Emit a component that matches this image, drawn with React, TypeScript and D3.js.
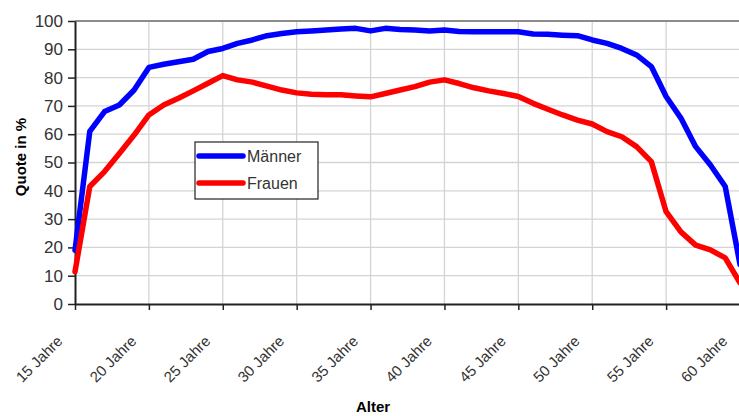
import React, { useEffect, useRef } from "react";
import * as d3 from "d3";

const ages = [15, 16, 17, 18, 19, 20, 21, 22, 23, 24, 25, 26, 27, 28, 29, 30, 31, 32, 33, 34, 35, 36, 37, 38, 39, 40, 41, 42, 43, 44, 45, 46, 47, 48, 49, 50, 51, 52, 53, 54, 55, 56, 57, 58, 59, 60];

const maenner = [19, 61, 68, 70.3, 75.6, 83.6, 84.7, 85.6, 86.5, 89.2, 90.3, 92.1, 93.3, 94.8, 95.6, 96.2, 96.5, 96.8, 97.2, 97.4, 96.5, 97.4, 97, 96.8, 96.5, 96.8, 96.3, 96.2, 96.2, 96.2, 96.2, 95.4, 95.3, 95, 94.8, 93.3, 92.1, 90.3, 88, 83.9, 73.3, 65.7, 55.6, 49.1, 41.5, 14];

const frauen = [11.4, 41.5, 46.8, 53.2, 59.7, 66.8, 70.3, 72.7, 75.3, 78, 80.7, 79.2, 78.4, 77, 75.6, 74.6, 74.1, 73.9, 73.9, 73.5, 73.2, 74.4, 75.6, 76.8, 78.4, 79.2, 77.9, 76.4, 75.3, 74.4, 73.3, 70.9, 68.8, 66.8, 65, 63.6, 60.9, 59.1, 55.6, 50.3, 32.6, 25.5, 20.8, 19.1, 16.3, 7.5];

const yTicks = [0, 10, 20, 30, 40, 50, 60, 70, 80, 90, 100];
const xTicks = [15, 20, 25, 30, 35, 40, 45, 50, 55, 60];

const series = [
  { name: "Männer", values: maenner, color: "#0000ff" },
  { name: "Frauen", values: frauen, color: "#ff0000" },
];

const App = () => {
  const width = 739;
  const height = 416;
  const svgRef = useRef(null);

  useEffect(() => {
    const svg = d3.select(svgRef.current);
    svg.selectAll("*").remove();

    const left = 75, right = 740, top = 21, bottom = 304;
    const font = "Arial, 'Liberation Sans', sans-serif";

    const x = d3.scaleLinear().domain([15, 60]).range([left, right]);
    const y = d3.scaleLinear().domain([0, 100]).range([bottom, top]);

    svg.append("rect").attr("width", width).attr("height", height).attr("fill", "#fff");

    // grid
    svg.append("g")
      .selectAll("line")
      .data(yTicks.slice(1, -1))
      .join("line")
      .attr("x1", left).attr("x2", right)
      .attr("y1", (d) => y(d)).attr("y2", (d) => y(d))
      .attr("stroke", "#d4d4d4").attr("stroke-width", 1.3);
    svg.append("g")
      .selectAll("line")
      .data(xTicks.slice(1))
      .join("line")
      .attr("x1", (d) => x(d)).attr("x2", (d) => x(d))
      .attr("y1", top).attr("y2", bottom)
      .attr("stroke", "#d4d4d4").attr("stroke-width", 1.3);

    // top border
    svg.append("line")
      .attr("x1", left).attr("x2", right)
      .attr("y1", top).attr("y2", top)
      .attr("stroke", "#8c8c8c").attr("stroke-width", 2);

    // y axis
    const yAxis = svg.append("g")
      .attr("transform", `translate(${left},0)`)
      .call(d3.axisLeft(y).tickValues(yTicks).tickSizeInner(7).tickSizeOuter(0).tickPadding(5));
    yAxis.select(".domain").attr("stroke", "#222").attr("stroke-width", 2);
    yAxis.selectAll(".tick line").attr("stroke", "#222").attr("stroke-width", 1.5);
    yAxis.selectAll("text")
      .attr("font-family", font).attr("font-size", 17).attr("fill", "#333");

    // x axis
    const xAxis = svg.append("g")
      .attr("transform", `translate(0,${bottom})`)
      .call(d3.axisBottom(x).tickValues(xTicks).tickSizeInner(6).tickSizeOuter(0).tickFormat((d) => `${d} Jahre`));
    xAxis.select(".domain").attr("stroke", "#222").attr("stroke-width", 2);
    xAxis.selectAll(".tick line").attr("stroke", "#222").attr("stroke-width", 1.5);
    xAxis.selectAll("text")
      .attr("font-family", font).attr("font-size", 15).attr("fill", "#333")
      .attr("text-anchor", "end")
      .attr("dy", null).attr("y", 0)
      .attr("transform", "translate(-12,38) rotate(-45)");

    // lines
    const line = d3.line()
      .x((d, i) => x(ages[i]))
      .y((d) => y(d));

    svg.append("g")
      .selectAll("path")
      .data(series)
      .join("path")
      .attr("d", (d) => line(d.values))
      .attr("fill", "none")
      .attr("stroke", (d) => d.color)
      .attr("stroke-width", 5.5)
      .attr("stroke-linejoin", "round")
      .attr("stroke-linecap", "round");

    // axis titles
    svg.append("text")
      .attr("x", 373).attr("y", 412)
      .attr("text-anchor", "middle")
      .attr("font-family", font).attr("font-size", 15).attr("font-weight", "bold")
      .text("Alter");
    svg.append("text")
      .attr("transform", "translate(26,157) rotate(-90)")
      .attr("text-anchor", "middle")
      .attr("font-family", font).attr("font-size", 15).attr("font-weight", "bold")
      .text("Quote in %");

    // legend
    const lg = svg.append("g").attr("transform", "translate(195,142)");
    lg.append("rect")
      .attr("width", 123).attr("height", 57)
      .attr("fill", "#fff").attr("stroke", "#222").attr("stroke-width", 1.2);
    series.forEach((s, i) => {
      const yy = 14 + i * 27;
      lg.append("line")
        .attr("x1", 4).attr("x2", 48).attr("y1", yy).attr("y2", yy)
        .attr("stroke", s.color).attr("stroke-width", 5.5).attr("stroke-linecap", "round");
      lg.append("text")
        .attr("x", 52).attr("y", yy + 6)
        .attr("font-family", font).attr("font-size", 16).attr("fill", "#333")
        .text(s.name);
    });
  }, []);

  return (
    <svg
      ref={svgRef}
      width={width}
      height={height}
      style={{ position: "absolute", left: 0, top: 0, display: "block" }}
    ></svg>
  );
};

export default App;
